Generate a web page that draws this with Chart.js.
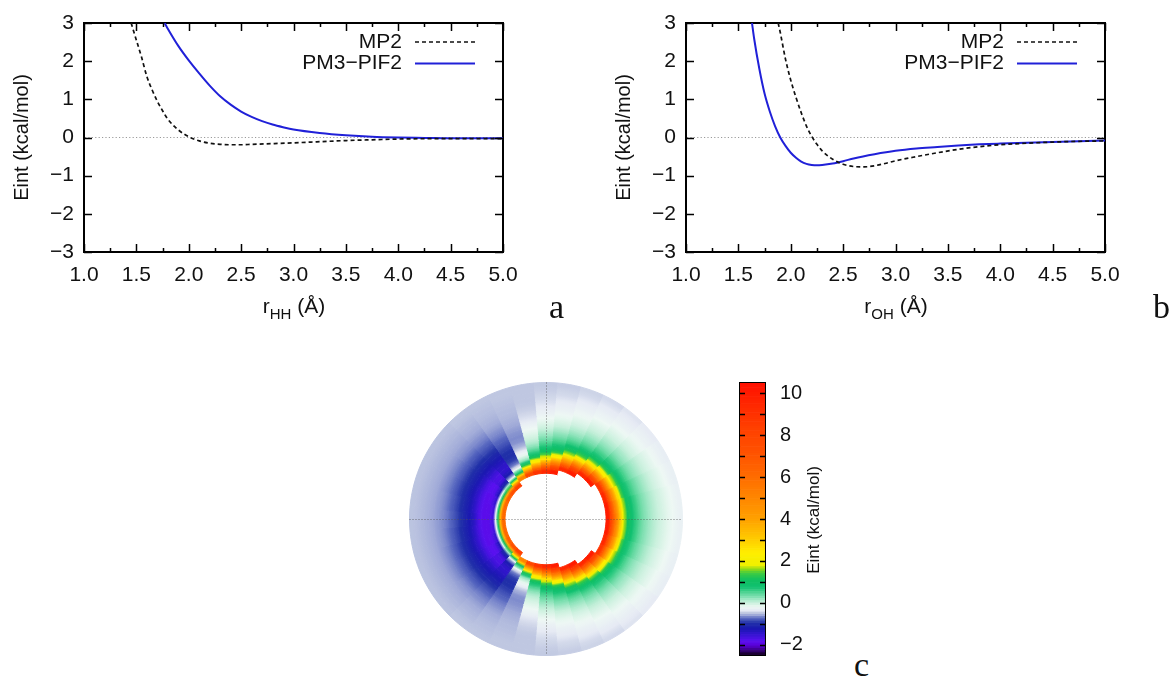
<!DOCTYPE html>
<html><head><meta charset="utf-8">
<script src="https://cdn.jsdelivr.net/npm/chart.js@4.4.1/dist/chart.umd.min.js"></script>
<style>
html,body{margin:0;padding:0;background:#fff;}
body{width:1173px;height:678px;position:relative;overflow:hidden;font-family:'Liberation Sans',Arial,sans-serif;color:#111;}
canvas{position:absolute;}
.lbl{position:absolute;white-space:nowrap;}
.xt{width:200px;text-align:center;font-size:21px;line-height:24px;top:294px;}
.xt span{font-size:15px;position:relative;top:6px;}
.pl{font-family:'Liberation Serif','Times New Roman',serif;font-size:34px;line-height:34px;}
</style></head><body>
<canvas id="cA" width="590" height="330" style="left:0;top:0;width:590px;height:330px"></canvas>
<canvas id="cB" width="571" height="330" style="left:602px;top:0;width:571px;height:330px"></canvas>
<canvas id="cC" width="274" height="274" style="left:409px;top:382px;width:274px;height:274px"></canvas>
<canvas id="cBar" width="140" height="300" style="left:700px;top:370px;width:140px;height:300px"></canvas>
<div class="lbl xt" style="left:194px">r<span>HH</span> (Å)</div>
<div class="lbl xt" style="left:796px">r<span>OH</span> (Å)</div>
<div class="lbl pl" style="left:549px;top:290px">a</div>
<div class="lbl pl" style="left:1153px;top:290px">b</div>
<div class="lbl pl" style="left:854px;top:648px">c</div>
<div class="lbl" style="left:714px;top:508px;width:200px;height:24px;line-height:24px;text-align:center;font-size:17px;transform:rotate(-90deg);">Eint (kcal/mol)</div>
<script>
// ---------------- Panel a : H···H interaction ----------------
const mp2HH_r = [1.45,1.5,1.55,1.6,1.65,1.7,1.75,1.8,1.9,2.0,2.1,2.2,2.3,2.4,2.5,2.6,2.8,3.0,3.25,3.5,3.75,4.0,4.5,5.0];
const mp2HH_E = [3.0,2.55,2.1,1.6,1.25,0.95,0.7,0.48,0.2,0.02,-0.09,-0.15,-0.18,-0.19,-0.19,-0.18,-0.16,-0.14,-0.11,-0.08,-0.06,-0.04,-0.03,-0.03];
const pm3HH_r = [1.77,1.8,1.9,2.0,2.1,2.2,2.3,2.4,2.5,2.6,2.7,2.8,2.9,3.0,3.25,3.5,3.75,4.0,4.25,4.5,5.0];
const pm3HH_E = [3.0,2.85,2.4,2.02,1.68,1.36,1.08,0.86,0.68,0.54,0.43,0.34,0.27,0.21,0.12,0.06,0.02,0.0,-0.01,-0.02,-0.02];

// ---------------- Panel b : O···H interaction ----------------
const mp2OH_r = [1.88,1.9,1.95,2.0,2.05,2.1,2.15,2.2,2.25,2.3,2.4,2.5,2.6,2.7,2.8,2.9,3.0,3.2,3.4,3.6,3.8,4.0,4.25,4.5,4.75,5.0];
const mp2OH_E = [3.0,2.75,2.05,1.5,1.05,0.65,0.3,0.03,-0.18,-0.35,-0.57,-0.7,-0.76,-0.77,-0.74,-0.68,-0.61,-0.5,-0.4,-0.31,-0.24,-0.19,-0.15,-0.12,-0.1,-0.09];
const pm3OH_r = [1.63,1.65,1.7,1.75,1.8,1.85,1.9,1.95,2.0,2.05,2.1,2.15,2.2,2.25,2.3,2.4,2.5,2.6,2.8,3.0,3.2,3.4,3.6,3.8,4.0,4.5,5.0];
const pm3OH_E = [3.0,2.6,1.8,1.15,0.68,0.3,0.0,-0.22,-0.4,-0.53,-0.63,-0.69,-0.72,-0.73,-0.72,-0.68,-0.62,-0.55,-0.44,-0.35,-0.29,-0.25,-0.21,-0.18,-0.16,-0.12,-0.08];

const seriesLabels = ['MP2', 'PM3\u2212PIF2'];
const xTicksMajor = 0.5, xTicksMinor = 0.25;
const xRange = [1.0, 5.0], yRange = [-3, 3];

// ---------------- Panel c : polar map (angle 0..180 deg, mirrored below) ----------------
const polarAnglesDeg = [0,10,20,30,40,50,60,70,80,90,100,110,120,130,140,150,160,170,180];
const polarInnerA = 1.5, polarOuterA = 5.0;
const polarRingsA = [1.59,1.76,1.94,2.11,2.29,2.46,2.64,2.81,2.99,3.16,3.34,3.51,3.69,3.86,4.04,4.21,4.39,4.56,4.74,4.91];
const eint000 = [null,null,null,null,9.5,6.5,4.2,2.2,1.3,1.0,0.8,0.62,0.5,0.4,0.32,0.25,0.18,0.12,0.07,0.03];
const eint010 = [null,null,null,null,9.5,6.4,4.1,2.2,1.3,1.0,0.8,0.62,0.5,0.4,0.32,0.25,0.18,0.12,0.07,0.03];
const eint020 = [null,null,null,null,9,6,3.8,2.0,1.2,0.95,0.75,0.6,0.48,0.38,0.3,0.22,0.16,0.1,0.05,0.01];
const eint030 = [null,null,null,null,8.5,5.5,3.2,1.8,1.15,0.9,0.7,0.55,0.44,0.35,0.27,0.2,0.14,0.08,0.03,-0.01];
const eint040 = [null,null,null,9.5,7,4.5,2.5,1.5,1.05,0.85,0.65,0.5,0.4,0.3,0.22,0.15,0.09,0.04,0,-0.04];
const eint050 = [null,null,null,9,6,3.6,2.0,1.3,0.95,0.75,0.58,0.45,0.35,0.26,0.18,0.11,0.05,0,-0.04,-0.07];
const eint060 = [null,null,9.5,7.5,4.8,2.7,1.6,1.1,0.85,0.65,0.5,0.38,0.28,0.2,0.13,0.07,0.02,-0.03,-0.07,-0.1];
const eint070 = [null,null,9,6,3.8,2.1,1.35,1.0,0.75,0.57,0.43,0.32,0.22,0.15,0.08,0.03,-0.02,-0.06,-0.1,-0.12];
const eint080 = [null,9.5,7,4.5,2.5,1.5,1.1,0.85,0.65,0.5,0.36,0.25,0.16,0.09,0.03,-0.02,-0.06,-0.1,-0.12,-0.14];
const eint090 = [null,9,6,3.5,1.9,1.3,0.95,0.72,0.55,0.4,0.28,0.18,0.1,0.03,-0.03,-0.07,-0.1,-0.12,-0.14,-0.15];
const eint100 = [null,8.5,5,2.6,1.4,0.9,0.6,0.4,0.28,0.18,0.1,0.02,-0.06,-0.1,-0.13,-0.15,-0.16,-0.16,-0.16,-0.16];
const eint110 = [null,7.5,3.5,1.4,0.5,0.15,-0.05,-0.22,-0.3,-0.32,-0.3,-0.27,-0.24,-0.22,-0.2,-0.19,-0.18,-0.17,-0.16,-0.16];
const eint120 = [null,5,1.3,0.1,-0.35,-0.55,-0.62,-0.6,-0.54,-0.46,-0.4,-0.34,-0.3,-0.26,-0.23,-0.21,-0.19,-0.18,-0.17,-0.16];
const eint130 = [8,2.5,0.1,-0.8,-1.05,-1.05,-0.95,-0.82,-0.7,-0.58,-0.48,-0.4,-0.34,-0.3,-0.26,-0.23,-0.21,-0.19,-0.17,-0.16];
const eint140 = [7,1.5,-0.6,-1.2,-1.3,-1.2,-1.0,-0.86,-0.73,-0.6,-0.5,-0.42,-0.35,-0.3,-0.27,-0.24,-0.22,-0.2,-0.18,-0.17];
const eint150 = [6.5,1.3,-0.9,-1.35,-1.4,-1.28,-1.05,-0.88,-0.74,-0.62,-0.51,-0.42,-0.36,-0.31,-0.27,-0.24,-0.22,-0.2,-0.18,-0.17];
const eint160 = [6,1.2,-1.1,-1.42,-1.45,-1.3,-1.08,-0.9,-0.75,-0.62,-0.52,-0.43,-0.36,-0.31,-0.27,-0.24,-0.22,-0.2,-0.18,-0.17];
const eint170 = [6,1.2,-1.2,-1.45,-1.45,-1.3,-1.05,-0.87,-0.72,-0.6,-0.5,-0.42,-0.35,-0.3,-0.27,-0.24,-0.22,-0.2,-0.18,-0.17];
const eint180 = [6,1.2,-1.2,-1.45,-1.45,-1.3,-1.0,-0.85,-0.7,-0.58,-0.48,-0.4,-0.34,-0.3,-0.27,-0.24,-0.22,-0.2,-0.18,-0.17];
const eintRows = [eint000,eint010,eint020,eint030,eint040,eint050,eint060,eint070,eint080,eint090,eint100,eint110,eint120,eint130,eint140,eint150,eint160,eint170,eint180];

// colour scale
const cmapValues = [-2,-1.85,-1.6,-1.4,-1.1,-0.85,-0.6,-0.4,-0.25,-0.15,-0.05,0.1,0.3,0.5,0.8,1.0,1.3,1.6,1.8,1.95,2.5,3,3.5,4,5,6,7,8,9,10];
const cmapColors = ['#100018','#30006a','#5a00d8','#5a10f0','#3414d0','#1a18b0','#2030a8','#5868c0','#a0aad8','#c2cae2','#e6eaf4','#eef8f4','#c8f0dc','#90e4bc','#40d08a','#10c070','#10c060','#40cc40','#a0dc10','#f0f000','#ffee00','#ffd000','#ffb800','#ffa000','#ff8400','#ff6800','#ff5000','#ff4000','#ff2800','#ff1000'];
const cbRange = [-2, 10];
const cbTickStep = 1, cbLabelStep = 2;

// ---------------- helpers ----------------
const FONT = "'Liberation Sans', Arial, Helvetica, sans-serif";
Chart.defaults.font.family = FONT;
Chart.defaults.color = '#111';

function hex2rgb(h){ return [parseInt(h.slice(1,3),16),parseInt(h.slice(3,5),16),parseInt(h.slice(5,7),16)]; }
function eintColor(v){
  if (v === null || v === undefined) return '#ffffff';
  if (v <= cmapValues[0]) return cmapColors[0];
  const n = cmapValues.length;
  if (v >= cmapValues[n-1]) return cmapColors[n-1];
  for (let i = 0; i < n-1; i++) {
    if (v >= cmapValues[i] && v <= cmapValues[i+1]) {
      const t = (v - cmapValues[i]) / (cmapValues[i+1] - cmapValues[i]);
      const a = hex2rgb(cmapColors[i]), b = hex2rgb(cmapColors[i+1]);
      const c = a.map((x,k)=>Math.round(x + (b[k]-x)*t));
      return 'rgb(' + c.join(',') + ')';
    }
  }
  return '#ffffff';
}
const minus = v => String(v).replace('-', '\u2212');
const pts = (xs, ys) => xs.map((x,i)=>({x, y: ys[i]}));
const noPad = s => { s.paddingTop = 0; s.paddingBottom = 0; s.paddingLeft = 0; s.paddingRight = 0; };

// inward (gnuplot-style) tick marks, taken from the library's own scale ticks
const innerTicks = {
  id: 'innerTicks',
  afterDatasetsDraw(chart, args, opts) {
    const {ctx, chartArea: a} = chart;
    ctx.save();
    ctx.strokeStyle = opts.color;
    ctx.lineWidth = opts.width;
    ctx.setLineDash([]);
    ctx.beginPath();
    opts.marks.forEach(m => {
      const s = chart.scales[m.id];
      if (!s) return;
      s.ticks.forEach(t => {
        const p = Math.round(s.getPixelForValue(t.value)) + 0.5;
        if (s.position === 'bottom') { ctx.moveTo(p, a.bottom); ctx.lineTo(p, a.bottom - m.len); }
        else if (s.position === 'top') { ctx.moveTo(p, a.top); ctx.lineTo(p, a.top + m.len); }
        else if (s.position === 'left') { ctx.moveTo(a.left, p); ctx.lineTo(a.left + m.len, p); }
        else { ctx.moveTo(a.right, p); ctx.lineTo(a.right - m.len, p); }
      });
    });
    ctx.stroke();
    ctx.restore();
  }
};

const insideLegend = {
  id: 'insideLegend',
  afterDraw(chart, args, opts) {
    const {ctx, chartArea} = chart;
    ctx.save();
    ctx.font = opts.font;
    ctx.textAlign = 'right';
    ctx.textBaseline = 'middle';
    chart.data.datasets.forEach((ds, i) => {
      const y = chartArea.top + opts.rows[i];
      const x2 = chartArea.right - opts.rightGap, x1 = x2 - opts.sampleLen;
      ctx.fillStyle = '#111';
      ctx.fillText(ds.label, x1 - opts.gap, y);
      ctx.strokeStyle = ds.borderColor;
      ctx.lineWidth = ds.borderWidth;
      ctx.setLineDash(ds.borderDash || []);
      ctx.beginPath(); ctx.moveTo(x1, y); ctx.lineTo(x2, y); ctx.stroke();
    });
    ctx.restore();
  }
};

function lineChart(canvasId, mpR, mpE, pmR, pmE, rightPad) {
  const tickFont = {family: FONT, size: 21};
  const noGrid = {display: false, drawTicks: false};
  const frame = {display: true, width: 2, color: '#000'};
  return new Chart(document.getElementById(canvasId), {
    type: 'line',
    data: { datasets: [
      { label: seriesLabels[0], data: pts(mpR, mpE), borderColor: '#111', borderWidth: 1.7, borderDash: [4,3],
        pointRadius: 0, cubicInterpolationMode: 'monotone', fill: false },
      { label: seriesLabels[1], data: pts(pmR, pmE), borderColor: '#2020d8', borderWidth: 2,
        pointRadius: 0, cubicInterpolationMode: 'monotone', fill: false }
    ]},
    options: {
      responsive: false, animation: false, events: [],
      layout: { padding: { left: 0, top: 23, right: rightPad, bottom: 0 } },
      plugins: {
        legend: { display: false }, tooltip: { enabled: false },
        insideLegend: { font: '21px ' + FONT, rows: [19, 40.5], rightGap: 28, sampleLen: 60, gap: 13 },
        innerTicks: { color: '#000', width: 1.5, marks: [
          {id: 'x', len: 8}, {id: 'xMinor', len: 4}, {id: 'xTop', len: 8}, {id: 'xTopMinor', len: 4},
          {id: 'y', len: 8}, {id: 'yRight', len: 8} ] }
      },
      scales: {
        x: { type: 'linear', position: 'bottom', weight: 1, min: xRange[0], max: xRange[1],
             ticks: { stepSize: xTicksMajor, autoSkip: false, maxRotation: 0, padding: 11, font: tickFont, color: '#111',
                      callback: v => v.toFixed(1) },
             grid: noGrid, border: frame,
             afterFit: s => { s.height = 78; noPad(s); } },
        xMinor: { type: 'linear', position: 'bottom', weight: 0, min: xRange[0], max: xRange[1],
             ticks: { stepSize: xTicksMinor, display: false },
             grid: noGrid, border: { display: false },
             afterFit: s => { s.height = 0; noPad(s); } },
        xTop: { type: 'linear', position: 'top', weight: 1, min: xRange[0], max: xRange[1],
             ticks: { stepSize: xTicksMajor, display: false },
             grid: noGrid, border: frame,
             afterFit: s => { s.height = 0; noPad(s); } },
        xTopMinor: { type: 'linear', position: 'top', weight: 0, min: xRange[0], max: xRange[1],
             ticks: { stepSize: xTicksMinor, display: false },
             grid: noGrid, border: { display: false },
             afterFit: s => { s.height = 0; noPad(s); } },
        y: { type: 'linear', position: 'left', min: yRange[0], max: yRange[1],
             ticks: { stepSize: 1, padding: 10, font: tickFont, color: '#111', callback: v => minus(v) },
             grid: { drawOnChartArea: true, drawTicks: false, lineWidth: 1,
                     color: c => (c.tick && c.tick.value === 0) ? '#9a9a9a' : 'rgba(0,0,0,0)' },
             border: { display: true, width: 2, color: '#000', dash: [1.2, 2.2] },
             title: { display: true, text: 'Eint (kcal/mol)', font: { family: FONT, size: 20 }, color: '#111',
                      padding: { top: 10, bottom: 0 } },
             afterFit: s => { s.width = 84; noPad(s); } },
        yRight: { type: 'linear', position: 'right', min: yRange[0], max: yRange[1],
             ticks: { stepSize: 1, display: false },
             grid: noGrid, border: frame,
             afterFit: s => { s.width = 0; noPad(s); } }
      }
    },
    plugins: [insideLegend, innerTicks]
  });
}

lineChart('cA', mp2HH_r, mp2HH_E, pm3HH_r, pm3HH_E, 87);
lineChart('cB', mp2OH_r, mp2OH_E, pm3OH_r, pm3OH_E, 68);

// ---------------- Panel c : doughnut rings as polar map ----------------
const nRings = polarRingsA.length;
const nSlices = 2 * (polarAnglesDeg.length - 1);       // full circle from the mirrored half
const sliceDeg = 360 / nSlices;
const sliceRow = k => (k <= polarAnglesDeg.length - 1 ? k : nSlices - k);
const ringDatasets = polarRingsA.map((r, j) => {
  const cols = [];
  for (let k = 0; k < nSlices; k++) cols.push(eintColor(eintRows[sliceRow(k)][j]));
  return { label: r + ' Å', ring: j, data: cols.map(() => sliceDeg), backgroundColor: cols, borderColor: cols,
           borderWidth: 1, hoverOffset: 0 };
}).reverse();   // outermost ring first

const crosshair = {
  id: 'crosshair',
  afterDatasetsDraw(chart) {
    const arc = chart.getDatasetMeta(0).data[0];
    const {x, y} = arc;
    const R = arc.outerRadius;
    const ctx = chart.ctx;
    ctx.save();
    ctx.strokeStyle = 'rgba(80,80,80,0.75)';
    ctx.lineWidth = 1;
    ctx.setLineDash([1, 2]);
    ctx.beginPath();
    ctx.moveTo(x - R, Math.round(y) + 0.5); ctx.lineTo(x + R, Math.round(y) + 0.5);
    ctx.moveTo(Math.round(x) + 0.5, y - R); ctx.lineTo(Math.round(x) + 0.5, y + R);
    ctx.stroke();
    ctx.restore();
  }
};

const polar = new Chart(document.getElementById('cC'), {
  type: 'doughnut',
  data: { labels: Array.from({length: nSlices}, (_, k) => k * sliceDeg + '°'), datasets: ringDatasets },
  options: {
    responsive: false, animation: false, events: [],
    cutout: (polarInnerA / polarOuterA * 100) + '%',
    rotation: 90 - sliceDeg / 2,
    layout: { padding: 0 },
    plugins: { legend: { display: false }, tooltip: { enabled: false } }
  },
  plugins: [crosshair]
});

// radial shading of every cell between its neighbouring rings (pm3d-like colouring)
(function shadePolar(chart) {
  const ctx = chart.ctx;
  chart.data.datasets.forEach((ds, di) => {
    const j = ds.ring;
    const meta = chart.getDatasetMeta(di);
    const fills = meta.data.map((arc, k) => {
      const row = eintRows[sliceRow(k)];
      const v = row[j];
      if (v === null) return '#ffffff';
      const vin = (j > 0 && row[j-1] !== null) ? (row[j-1] + v) / 2 : v;
      const vout = (j < nRings - 1 && row[j+1] !== null) ? (row[j+1] + v) / 2 : v;
      const g = ctx.createRadialGradient(arc.x, arc.y, arc.innerRadius, arc.x, arc.y, arc.outerRadius);
      g.addColorStop(0, eintColor(vin));
      g.addColorStop(0.5, eintColor(v));
      g.addColorStop(1, eintColor(vout));
      return g;
    });
    ds.backgroundColor = fills;
    ds.borderColor = fills;
  });
  chart.update();
})(polar);

// ---------------- colour bar ----------------
const cbStep = 0.1;
const cbLevels = [];
for (let v = cbRange[1] - cbStep / 2; v > cbRange[0]; v -= cbStep) cbLevels.push(+v.toFixed(3));
const cbTickFont = {family: FONT, size: 20};
const cbFrame = {display: true, width: 2, color: '#000'};
new Chart(document.getElementById('cBar'), {
  type: 'bar',
  data: { labels: cbLevels.map(String),
          datasets: [{ data: cbLevels.map(() => 1), backgroundColor: cbLevels.map(eintColor), borderWidth: 0,
                       categoryPercentage: 1, barPercentage: 1, xAxisID: 'x', yAxisID: 'y' }] },
  options: {
    indexAxis: 'y', responsive: false, animation: false, events: [],
    layout: { padding: { left: 40, top: 13, right: 0, bottom: 15 } },
    plugins: { legend: { display: false }, tooltip: { enabled: false },
               innerTicks: { color: '#000', width: 1.5, marks: [ {id: 'yl', len: 5}, {id: 'yr', len: 5} ] } },
    scales: {
      x: { type: 'linear', position: 'bottom', min: 0, max: 1, ticks: { display: false }, grid: { display: false, drawTicks: false },
           border: cbFrame, afterFit: s => { s.height = 0; noPad(s); } },
      xTop: { type: 'linear', position: 'top', min: 0, max: 1, ticks: { display: false }, grid: { display: false, drawTicks: false },
           border: cbFrame, afterFit: s => { s.height = 0; noPad(s); } },
      y: { type: 'category', display: false },
      yl: { type: 'linear', position: 'left', min: cbRange[0], max: cbRange[1],
            ticks: { stepSize: cbTickStep, display: false },
            grid: { display: false, drawTicks: false },
            border: cbFrame, afterFit: s => { s.width = 0; noPad(s); } },
      yr: { type: 'linear', position: 'right', min: cbRange[0], max: cbRange[1],
            ticks: { stepSize: cbTickStep, autoSkip: false, padding: 15, font: cbTickFont, color: '#111',
                     callback: v => (v % cbLabelStep === 0 ? minus(v) : '') },
            grid: { display: false, drawTicks: false },
            border: cbFrame, afterFit: s => { s.width = 75; noPad(s); } }
    }
  },
  plugins: [innerTicks]
});
</script>
</body></html>
